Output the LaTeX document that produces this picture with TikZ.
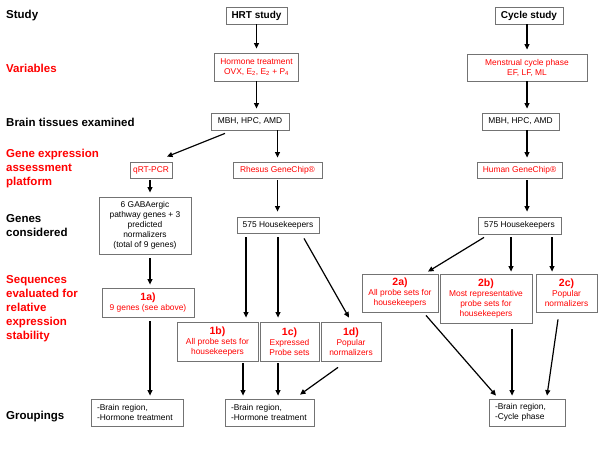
\documentclass[tikz,border=0pt]{standalone}
\usepackage{fontspec}
\setmainfont{Liberation Sans}
\usetikzlibrary{arrows.meta,calc}
\newcommand\stepno[1]{{\bfseries\fontsize{10.5}{10}\selectfont #1}}
\begin{document}
\begin{tikzpicture}[x=1pt,y=-1pt,
  bx/.style={draw=black!55, line width=0.8pt, inner sep=1pt, align=center,
    font=\fontsize{8.4}{10}\selectfont},
  rd/.style={bx, text=red},
  grp/.style={bx, align=left, inner xsep=6pt, minimum height=27pt},
  lab/.style={anchor=west, align=left, inner sep=0pt,
    font=\bfseries\fontsize{11.5}{14}\selectfont},
  arr/.style={line width=1.2pt, -{Triangle[length=5.5pt,width=5pt]}}]
\useasboundingbox[fill=white] (0,0) rectangle (600,450);

% row labels
\node[lab] (lstudy) at (6,15.5) {Study};
\node[lab, text=red] (lvar) at (6,68) {Variables};
\node[lab] (ltis) at (6,122) {Brain tissues examined};
\node[lab, text=red] (lgene) at (6,169) {Gene expression\\assessment\\platform};
\node[lab] (lcons) at (6,226) {Genes\\considered};
\node[lab, text=red] (lseq) at (6,309) {Sequences\\evaluated for\\relative\\expression\\stability};
\node[lab] (lgrp) at (6,417) {Groupings};

% boxes
\node[bx, minimum width=61pt, minimum height=17pt, font=\bfseries\fontsize{10}{12}\selectfont] (hrt) at (256.5,15.5) {HRT study};
\node[bx, minimum width=68pt, minimum height=17pt, font=\bfseries\fontsize{10}{12}\selectfont] (cyc) at (529,15.5) {Cycle study};
\node[rd, minimum width=84pt, minimum height=28pt] (horm) at (256.5,67) {Hormone treatment\\OVX, E\textsubscript{2}, E\textsubscript{2} + P\textsubscript{4}};
\node[rd, minimum width=120pt, minimum height=27pt] (mens) at (527,67.5) {Menstrual cycle phase\\EF, LF, ML};
\node[bx, minimum width=78pt, minimum height=17pt] (mbh1) at (250,121.5) {MBH, HPC, AMD};
\node[bx, minimum width=77pt, minimum height=17pt] (mbh2) at (520.5,121.5) {MBH, HPC, AMD};
\node[rd, minimum width=42pt, minimum height=16pt] (qrt) at (151,170) {qRT-PCR};
\node[rd, minimum width=89pt, minimum height=16pt] (rh) at (277.5,170) {Rhesus GeneChip®};
\node[rd, minimum width=85pt, minimum height=16pt] (hum) at (519.5,170) {Human GeneChip®};
\node[bx, minimum width=92pt, minimum height=57pt] (gaba) at (145,225.5) {6 GABAergic\\pathway genes + 3\\predicted\\normalizers\\(total of 9 genes)};
\node[bx, minimum width=82pt, minimum height=16pt] (hk1) at (278,225) {575 Housekeepers};
\node[bx, minimum width=83pt, minimum height=17pt] (hk2) at (519.5,225.5) {575 Housekeepers};
\node[rd, minimum width=92pt, minimum height=29pt] (a1) at (148,302.5) {\stepno{1a)}\\9 genes (see above)};
\node[rd, minimum width=81pt, minimum height=39pt] (b1) at (217.5,341.5) {\stepno{1b)}\\All probe sets for\\housekeepers};
\node[rd, minimum width=59pt, minimum height=39pt] (c1) at (289.5,341.5) {\stepno{1c)}\\Expressed\\Probe sets};
\node[rd, minimum width=60pt, minimum height=39pt] (d1) at (351,341.5) {\stepno{1d)}\\Popular\\normalizers};
\node[rd, minimum width=76pt, minimum height=38pt] (a2) at (400,293) {\stepno{2a)}\\All probe sets for\\housekeepers};
\node[rd, minimum width=92pt, minimum height=49pt] (b2) at (486,298.5) {\stepno{2b)}\\Most representative\\probe sets for\\housekeepers};
\node[rd, minimum width=61pt, minimum height=38pt] (c2) at (566.5,293) {\stepno{2c)}\\Popular\\normalizers};
\node[grp, text width=80pt] (g1) at (137,412.5) {-Brain region,\\-Hormone treatment};
\node[grp, text width=77pt] (g2) at (269.5,412.5) {-Brain region,\\-Hormone treatment};
\node[grp, text width=64pt] (g3) at (527,412.5) {-Brain region,\\-Cycle phase};

% connectors
\draw[arr, shorten >=4pt] (hrt.south) -- (hrt.south |- horm.north);
\draw[arr, shorten >=4pt] (horm.south) -- (horm.south |- mbh1.north);
\draw[arr, shorten >=4pt] (mens.north |- cyc.south) -- (mens.north);
\draw[arr, shorten >=4pt] (mens.south) -- (mens.south |- mbh2.north);
\draw[arr] ($(mbh1.south)+(-25,3)$) -- ($(qrt.north)+(16,-5)$);
\draw[arr, shorten >=4pt] (rh.north |- mbh1.south) -- (rh.north);
\draw[arr, shorten >=4pt] (mens.south |- mbh2.south) -- (mens.south |- hum.north);
\draw[arr, shorten <=2pt, shorten >=4pt] ($(qrt.south)+(-1,0)$) -- ($(qrt.south |- gaba.north)+(-1,0)$);
\draw[arr, shorten <=2pt, shorten >=5pt] (rh.south) -- (rh.south |- hk1.north);
\draw[arr, shorten <=2pt, shorten >=5pt] (mens.south |- hum.south) -- (mens.south |- hk2.north);
\draw[arr, shorten <=4pt, shorten >=3pt] ($(qrt.south |- gaba.south)+(-1,0)$) -- ($(qrt.south |- a1.north)+(-1,0)$);
\draw[arr, shorten <=4pt, shorten >=4pt] ($(hk1.south)+(-32,0)$) -- ($(hk1.south |- b1.north)+(-32,0)$);
\draw[arr, shorten <=4pt, shorten >=4pt] (hk1.south) -- (hk1.south |- c1.north);
\draw[arr] ($(hk1.south)+(26,5)$) -- ($(d1.north)+(-2,-4)$);
\draw[arr, shorten <=4pt, shorten >=3pt] ($(qrt.south |- a1.south)+(-1,0)$) -- ($(qrt.south |- g1.north)+(-1,0)$);
\draw[arr, shorten <=2pt, shorten >=3pt] ($(hk1.south |- b1.south)+(-35,0)$) -- ($(hk1.south |- g2.north)+(-35,0)$);
\draw[arr, shorten <=2pt, shorten >=3pt] (hk1.south |- c1.south) -- (hk1.south |- g2.north);
\draw[arr] ($(d1.south)+(-13,6)$) -- ($(g2.north)+(30.5,-4)$);
\draw[arr] ($(hk2.south)+(-35.5,3)$) -- ($(a2.north)+(28,-2)$);
\draw[arr, shorten <=3pt, shorten >=2pt] ($(hk2.south)+(-8.5,0)$) -- ($(hk2.south |- b2.north)+(-8.5,0)$);
\draw[arr, shorten <=3pt, shorten >=2pt] ($(hk2.south)+(32.5,0)$) -- ($(hk2.south |- c2.north)+(32.5,0)$);
\draw[arr] ($(a2.south)+(26,3)$) -- ($(g3.north)+(-31,-3)$);
\draw[arr, shorten <=6pt, shorten >=3pt] ($(b2.south)+(26,0)$) -- ($(b2.south |- g3.north)+(26,0)$);
\draw[arr] ($(c2.south)+(-8.5,7)$) -- ($(g3.north)+(20,-3)$);
\end{tikzpicture}
\end{document}
